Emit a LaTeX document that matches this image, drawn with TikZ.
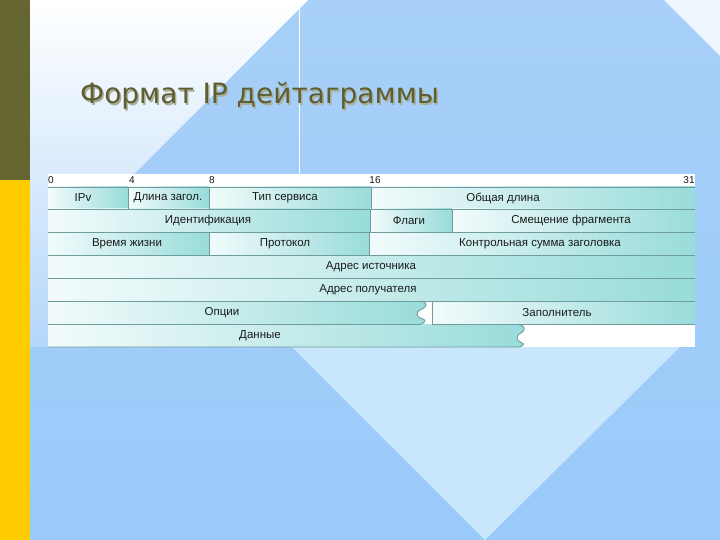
\documentclass[tikz,border=0pt]{standalone}
\usepackage{fontspec}
\setmainfont{Liberation Sans}
\newfontfamily\titlefont{DejaVu Sans}
\definecolor{bgTop}{HTML}{A8D0F8}
\definecolor{bgMid}{HTML}{BEDCFA}
\definecolor{bgBot}{HTML}{9ACAFA}
\definecolor{triC}{HTML}{C8E6FC}
\definecolor{wmid}{HTML}{F2F8FE}
\definecolor{wbot}{HTML}{B4D7FA}
\definecolor{oliveC}{HTML}{666633}
\definecolor{yellowC}{HTML}{FFCC00}
\definecolor{titleC}{HTML}{5E5E30}
\definecolor{shadowC}{HTML}{A9AE98}
\definecolor{cellL}{HTML}{F2FBFB}
\definecolor{cellR}{HTML}{98DCDA}
\definecolor{lineC}{HTML}{6F9C9C}
\definecolor{txtC}{HTML}{1A1A1A}
\begin{document}
\begin{tikzpicture}[x=1pt,y=-1pt,
  sep/.style={draw=lineC,line width=0.9pt},
  lbl/.style={font=\fontsize{11.5}{12}\selectfont,inner sep=0pt,text=txtC},
  bitlbl/.style={font=\fontsize{10}{11}\selectfont,inner sep=0pt,text=txtC},
  titletext/.style={font=\titlefont\fontsize{28}{32}\selectfont,inner sep=0pt,anchor=base west}]
\useasboundingbox (0,0) rectangle (720,540);
% background
\shade[top color=bgTop,middle color=bgMid,bottom color=bgBot] (0,0) rectangle (720,540);
\shade[top color=white,middle color=wmid,bottom color=wbot] (30,0) -- (308,0) -- (134,174) -- (48,174) -- (48,347) -- (30,347) -- cycle;
\fill[color=white!80!bgTop] (664,0) -- (720,0) -- (720,56) -- cycle;
\fill[triC] (285,340) -- (687,340) -- (485,540) -- cycle;
\draw[white,line width=0.8pt] (299.5,0) -- (299.5,174);
\fill[oliveC] (0,0) rectangle (30,180);
\fill[yellowC] (0,180) rectangle (30,540);
% title
\node[titletext,text=shadowC] (titleshadow) at (81.5,105.5) {Формат IP дейтаграммы};
\node[titletext,text=titleC] (title) at (80,104) {Формат IP дейтаграммы};
% table background
\fill[white] (48,174) rectangle (695,347);
\newcommand\cellbox[4]{\shade[left color=cellL,right color=cellR] (#1,#2) rectangle (#3,#4);}
% row 1
\cellbox{48}{187}{128.5}{209}
\cellbox{128.5}{187}{209}{209}
\cellbox{209}{187}{371.5}{209}
\cellbox{371.5}{187}{695}{209}
% row 2
\cellbox{48}{209}{370}{232}
\cellbox{370}{209}{452}{232}
\cellbox{452}{209}{695}{232}
% row 3
\cellbox{48}{232}{209}{255}
\cellbox{209}{232}{369}{255}
\cellbox{369}{232}{695}{255}
% rows 4,5
\cellbox{48}{255}{695}{278}
\cellbox{48}{278}{695}{301}
% row 6
\shade[left color=cellL,right color=cellR] (48,301) -- (421,301)
  .. controls (427,302) and (428,306) .. (422,309)
  .. controls (415,312) and (415,317) .. (423,319)
  .. controls (426,320) and (425,323) .. (421,324) -- (48,324) -- cycle;
\cellbox{432}{301}{695}{324}
% row 7
\shade[left color=cellL,right color=cellR] (48,324) -- (519,324)
  .. controls (525,326) and (526,330) .. (521,333)
  .. controls (515,336) and (516,341) .. (522,343)
  .. controls (525,344) and (523,346) .. (519,347) -- (48,347) -- cycle;
% separator lines
\draw[sep] (48,187) -- (695,187);
\draw[sep] (48,209) -- (695,209);
\draw[sep] (48,232) -- (695,232);
\draw[sep] (48,255) -- (695,255);
\draw[sep] (48,278) -- (695,278);
\draw[sep] (48,301) -- (695,301);
\draw[sep] (48,324) -- (421,324);
\draw[sep] (432,324) -- (695,324);
\draw[sep] (128.5,187) -- (128.5,209);
\draw[sep] (209,187) -- (209,209);
\draw[sep] (371.5,187) -- (371.5,209);
\draw[sep] (370,209) -- (370,232);
\draw[sep] (452,209) -- (452,232);
\draw[sep] (209,232) -- (209,255);
\draw[sep] (369,232) -- (369,255);
\draw[sep] (432,301) -- (432,324);
\draw[sep] (421,301)
  .. controls (427,302) and (428,306) .. (422,309)
  .. controls (415,312) and (415,317) .. (423,319)
  .. controls (426,320) and (425,323) .. (421,324);
\draw[sep] (519,324)
  .. controls (525,326) and (526,330) .. (521,333)
  .. controls (515,336) and (516,341) .. (522,343)
  .. controls (525,344) and (523,346) .. (519,347) -- (48,347);
% bit numbers
\node[bitlbl] (b0) at (51,180) {0};
\node[bitlbl] (b4) at (132,180) {4};
\node[bitlbl] (b8) at (212,180) {8};
\node[bitlbl] (b16) at (375,180) {16};
\node[bitlbl] (b31) at (689,180) {31};
% labels
\node[lbl] (ipv) at (83,198) {IPv};
\node[lbl] (hlen) at (168,198) {Длина загол.};
\node[lbl] (tos) at (285,198) {Тип сервиса};
\node[lbl] (tlen) at (503,198) {Общая длина};
\node[lbl] (ident) at (208,220.5) {Идентификация};
\node[lbl] (flags) at (409,220.5) {Флаги};
\node[lbl] (frag) at (571,220.5) {Смещение фрагмента};
\node[lbl] (ttl) at (127,243.5) {Время жизни};
\node[lbl] (proto) at (285,243.5) {Протокол};
\node[lbl] (csum) at (540,243.5) {Контрольная сумма заголовка};
\node[lbl] (src) at (371,266.5) {Адрес источника};
\node[lbl] (dst) at (368,289.5) {Адрес получателя};
\node[lbl] (opt) at (222,312.5) {Опции};
\node[lbl] (pad) at (557,312.5) {Заполнитель};
\node[lbl] (data) at (260,335.5) {Данные};
\end{tikzpicture}
\end{document}
